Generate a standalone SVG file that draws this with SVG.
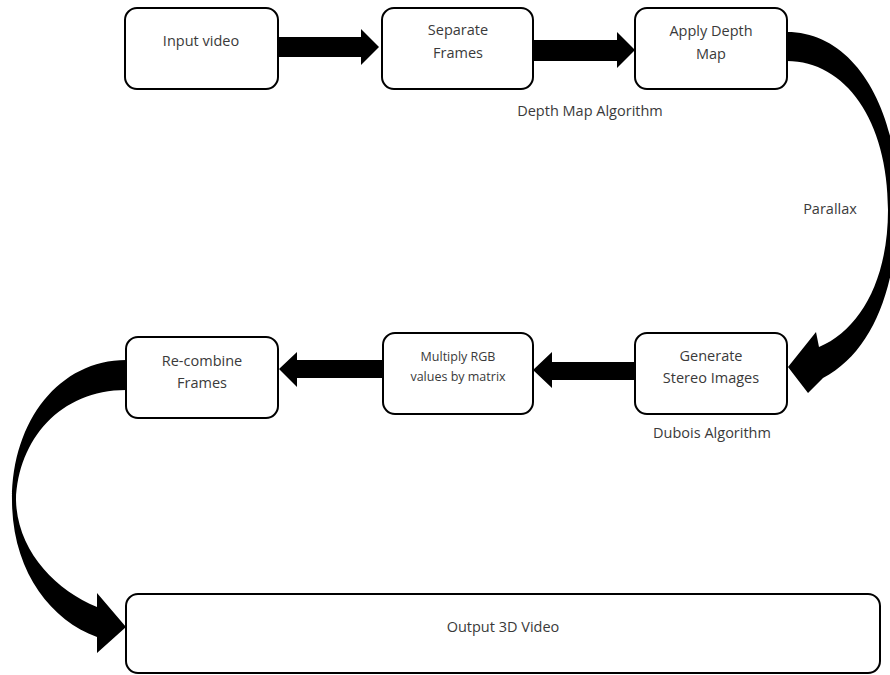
<svg xmlns="http://www.w3.org/2000/svg" width="890" height="675" viewBox="0 0 890 675">
<style>
.box{fill:#fff;stroke:#000;stroke-width:2}
.t{font-family:"Open Sans","Liberation Sans",sans-serif;font-size:14.5px;fill:#3a3a3a;text-anchor:middle}
.s{font-size:12.5px}
.arr{fill:#000;stroke:none}
</style>
<rect width="890" height="675" fill="#fff"/>
<g id="connectors">
<path class="arr" d="M278,37 H361 V29 L379,47 L361,65 V57 H278 Z"/>
<path class="arr" d="M533,40 H617 V32 L635,50 L617,68 V61 H533 Z"/>
<path class="arr" d="M787,32 C855,32 900,110 898,210 C896,290 872,352 823,378 L808,393 L788,367 L816,332 L819,347 C860,330 888,280 888,210 C888,120 845,61 787,61 Z"/>
<path class="arr" d="M635,362 H552 V352 L533,370 L552,388 V380 H635 Z"/>
<path class="arr" d="M382,360 H297 V352 L279,369 L297,387 V378 H382 Z"/>
<path class="arr" d="M126,360 C60,360 12,420 12,500 C12,570 50,620 97,637 L97,653 L126,627 L97,593 L97,607 C55,590 17,550 16,500 C18,440 60,390 126,390 Z"/>
</g>
<g id="input-video"><rect class="box" x="125" y="8" width="153" height="81" rx="12"/><text class="t" x="201" y="46">Input video</text></g>
<g id="separate-frames"><rect class="box" x="382" y="8" width="151" height="81" rx="12"/><text class="t" x="458" y="35">Separate</text><text class="t" x="458" y="58">Frames</text></g>
<g id="apply-depth-map"><rect class="box" x="635" y="8" width="152" height="81" rx="12"/><text class="t" x="711" y="36">Apply Depth</text><text class="t" x="711" y="59">Map</text></g>
<g id="generate-stereo"><rect class="box" x="635" y="333" width="152" height="81" rx="12"/><text class="t" x="711" y="361">Generate</text><text class="t" x="711" y="383">Stereo Images</text></g>
<g id="multiply-rgb"><rect class="box" x="383" y="333" width="150" height="81" rx="12"/><text class="t s" x="458" y="361">Multiply RGB</text><text class="t s" x="458" y="381">values by matrix</text></g>
<g id="recombine-frames"><rect class="box" x="126" y="337" width="152" height="81" rx="12"/><text class="t" x="202" y="366">Re-combine</text><text class="t" x="202" y="388">Frames</text></g>
<g id="output-3d-video"><rect class="box" x="126" y="594" width="754" height="79" rx="12"/><text class="t" x="503" y="632">Output 3D Video</text></g>
<g id="labels">
<text class="t" x="590" y="116">Depth Map Algorithm</text>
<text class="t" x="830" y="214">Parallax</text>
<text class="t" x="712" y="438">Dubois Algorithm</text>
</g>
</svg>
